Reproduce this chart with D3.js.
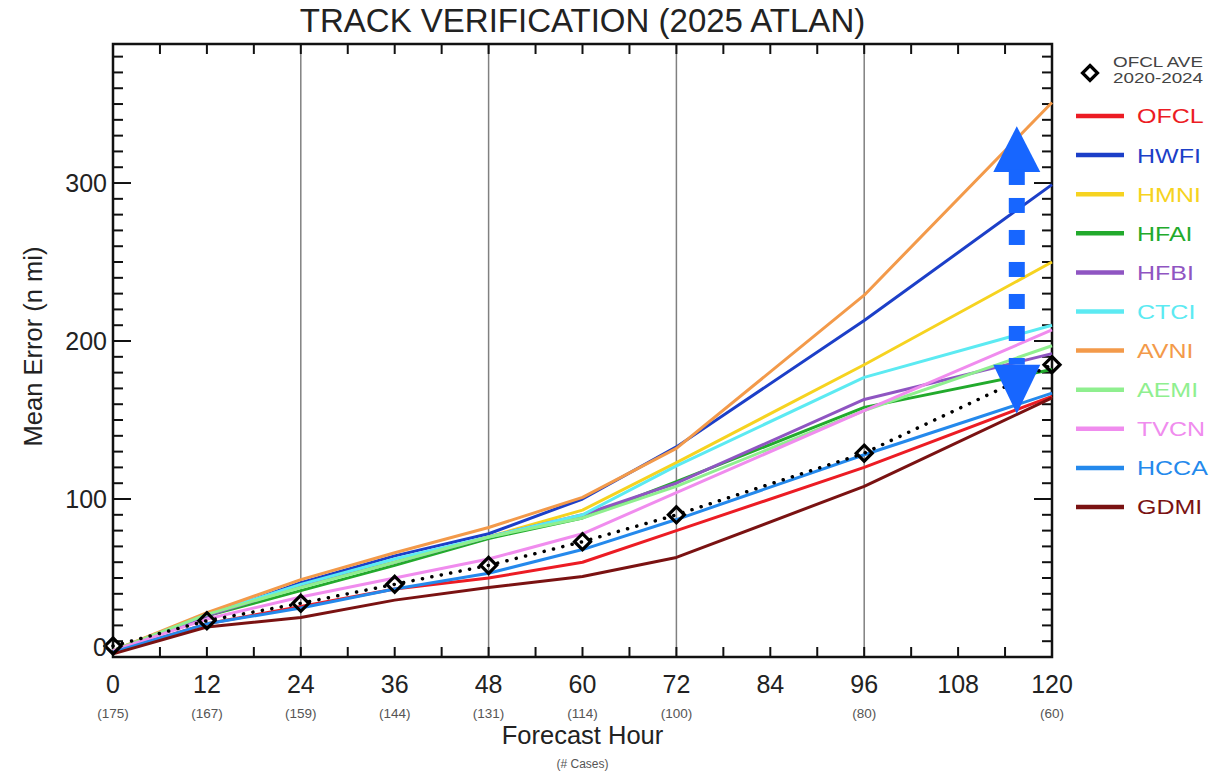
<!DOCTYPE html>
<html>
<head>
<meta charset="utf-8">
<script src="https://cdn.jsdelivr.net/npm/d3@7"></script>
<style>
  body { margin: 0; background: #fff; }
  text { font-family: "Liberation Sans", Arial, Helvetica, sans-serif; }
</style>
</head>
<body>
<script>
// forecast hours and number of verifying cases
const hours = [0, 12, 24, 36, 48, 60, 72, 96, 120];
const cases = [175, 167, 159, 144, 131, 114, 100, 80, 60];
const xTickLabels = [0, 12, 24, 36, 48, 60, 72, 84, 96, 108, 120];
const yTickLabels = [0, 100, 200, 300];

// 5-year average of the official forecast
const ofclAve = [7, 23, 34, 46, 58, 73, 90, 129, 185];

// model mean errors (n mi)
const models = ["OFCL", "HWFI", "HMNI", "HFAI", "HFBI", "CTCI", "AVNI", "AEMI", "TVCN", "HCCA", "GDMI"];
const colors = ["#ec1c24", "#1c3fc8", "#f6d320", "#22aa2c", "#8f55c2", "#5ceaf2", "#f39a4a", "#8fef8f", "#f08cee", "#2489ec", "#7a1212"];
const ofcl = [3, 21, 32, 43, 50, 60, 80, 120, 165];
const hwfi = [4, 26, 47, 64, 78, 100, 133, 213, 299];
const hmni = [4, 27, 45, 60, 76, 93, 123, 185, 250];
const hfai = [4, 26, 42, 58, 75, 88, 111, 158, 182];
const hfbi = [4, 26, 45, 60, 76, 90, 110, 163, 192];
const ctci = [4, 27, 46, 62, 76, 90, 121, 177, 210];
const avni = [4, 28, 49, 66, 82, 101, 132, 229, 351];
const aemi = [4, 27, 44, 60, 76, 88, 108, 156, 197];
const tvcn = [4, 24, 38, 50, 62, 78, 104, 156, 207];
const hcca = [3, 21, 31, 43, 53, 68, 87, 128, 167];
const gdmi = [2, 19, 25, 36, 44, 51, 63, 108, 164];
const series = [ofcl, hwfi, hmni, hfai, hfbi, ctci, avni, aemi, tvcn, hcca, gdmi];

const svgWidth = 1223;
const svgHeight = 772;
const plot = {left: 113, right: 1052, top: 44, bottom: 657};

const svg = d3.select("body").append("svg")
    .attr("width", svgWidth)
    .attr("height", svgHeight);

const x = d3.scaleLinear().domain([0, 120]).range([plot.left, plot.right]);
const y = d3.scaleLinear().domain([0, 388]).range([plot.bottom, plot.top]);

// vertical reference lines
svg.append("g")
    .selectAll("line")
    .data([24, 48, 72, 96])
    .join("line")
    .attr("x1", d => x(d)).attr("x2", d => x(d))
    .attr("y1", plot.top).attr("y2", plot.bottom)
    .attr("stroke", "#808080")
    .attr("stroke-width", 1.5);

// axes with inward ticks on all four sides
const xTicks = d3.range(0, 121, 6);
const yMinor = d3.range(0, 381, 10);
const tickLen = 10, majorLen = 18;

const frame = svg.append("g").attr("stroke", "#111").attr("stroke-width", 2);
frame.selectAll(".tb")
    .data(xTicks.filter(d => d > 0 && d < 120))
    .join("line")
    .attr("x1", d => x(d)).attr("x2", d => x(d))
    .attr("y1", plot.bottom).attr("y2", plot.bottom - tickLen);
frame.selectAll(".tt")
    .data(xTicks.filter(d => d > 0 && d < 120))
    .join("line")
    .attr("x1", d => x(d)).attr("x2", d => x(d))
    .attr("y1", plot.top).attr("y2", plot.top + tickLen);
const yLen = d => d % 100 === 0 ? majorLen : tickLen;
frame.selectAll(".yl")
    .data(yMinor.filter(d => d > 0))
    .join("line")
    .attr("x1", plot.left).attr("x2", d => plot.left + yLen(d))
    .attr("y1", d => y(d)).attr("y2", d => y(d));
frame.selectAll(".yr")
    .data(yMinor.filter(d => d > 0))
    .join("line")
    .attr("x1", plot.right).attr("x2", d => plot.right - yLen(d))
    .attr("y1", d => y(d)).attr("y2", d => y(d));
svg.append("rect")
    .attr("x", plot.left).attr("y", plot.top)
    .attr("width", plot.right - plot.left).attr("height", plot.bottom - plot.top)
    .attr("fill", "none").attr("stroke", "#111").attr("stroke-width", 2.5);

// model lines
const line = d3.line()
    .x((d, i) => x(hours[i]))
    .y(d => y(d));

svg.append("g")
    .selectAll("path")
    .data(series)
    .join("path")
    .attr("d", line)
    .attr("fill", "none")
    .attr("stroke", (d, i) => colors[i])
    .attr("stroke-width", 3)
    .attr("stroke-linejoin", "round");

// 5-year average: dotted line and diamonds
svg.append("path")
    .datum(ofclAve)
    .attr("d", line)
    .attr("fill", "none")
    .attr("stroke", "#000")
    .attr("stroke-width", 3.5)
    .attr("stroke-linecap", "round")
    .attr("stroke-dasharray", "0.1 9.5");

const diamond = (cx, cy, r) => `M${cx},${cy - r}L${cx + r},${cy}L${cx},${cy + r}L${cx - r},${cy}Z`;
svg.append("g")
    .selectAll("path")
    .data(ofclAve)
    .join("path")
    .attr("d", (d, i) => diamond(x(hours[i]), y(d), 8))
    .attr("fill", "none")
    .attr("stroke", "#000")
    .attr("stroke-width", 3.2);

// blue double arrow annotation
const arrowX = x(115.5);
const arrowColor = "#1766ff";
const arrow = svg.append("g").attr("fill", arrowColor);
const aTop = y(336), aTopBase = y(307), aBot = y(154), aBotBase = y(185);
arrow.append("path")
    .attr("d", `M${arrowX},${aTop}L${arrowX + 23.5},${aTopBase}L${arrowX - 23.5},${aTopBase}Z`);
arrow.append("path")
    .attr("d", `M${arrowX},${aBot}L${arrowX + 23.5},${aBotBase}L${arrowX - 23.5},${aBotBase}Z`);
arrow.selectAll("rect")
    .data([aTopBase - 2, aTopBase + 26, aTopBase + 58, aTopBase + 90, aTopBase + 122, aTopBase + 154, aTopBase + 186])
    .join("rect")
    .attr("x", arrowX - 8).attr("width", 16)
    .attr("y", d => d).attr("height", d => Math.min(15, aBotBase - d));

// title
svg.append("text")
    .attr("x", (plot.left + plot.right) / 2)
    .attr("y", 32)
    .attr("text-anchor", "middle")
    .attr("font-size", 33)
    .attr("fill", "#222")
    .text("TRACK VERIFICATION (2025 ATLAN)");

// tick labels
svg.append("g")
    .selectAll("text")
    .data(xTickLabels)
    .join("text")
    .attr("x", d => x(d))
    .attr("y", 693)
    .attr("text-anchor", "middle")
    .attr("font-size", 25)
    .attr("fill", "#222")
    .text(d => d);

svg.append("g")
    .selectAll("text")
    .data(yTickLabels)
    .join("text")
    .attr("x", 107)
    .attr("y", d => d === 0 ? y(d) - 1 : y(d) + 9)
    .attr("text-anchor", "end")
    .attr("font-size", 25)
    .attr("fill", "#222")
    .text(d => d);

svg.append("g")
    .selectAll("text")
    .data(cases)
    .join("text")
    .attr("x", (d, i) => x(hours[i]))
    .attr("y", 718)
    .attr("text-anchor", "middle")
    .attr("font-size", 13.5)
    .attr("fill", "#555")
    .text(d => `(${d})`);

svg.append("text")
    .attr("x", (plot.left + plot.right) / 2)
    .attr("y", 744)
    .attr("text-anchor", "middle")
    .attr("font-size", 25.5)
    .attr("fill", "#222")
    .text("Forecast Hour");

svg.append("text")
    .attr("x", (plot.left + plot.right) / 2)
    .attr("y", 768)
    .attr("text-anchor", "middle")
    .attr("font-size", 12)
    .attr("fill", "#555")
    .text("(# Cases)");

svg.append("text")
    .attr("transform", `translate(42, ${(plot.top + plot.bottom) / 2 - 4}) rotate(-90)`)
    .attr("text-anchor", "middle")
    .attr("font-size", 25.5)
    .attr("fill", "#222")
    .text("Mean Error (n mi)");

// legend (its lettering is drawn a little wider than normal)
const legend = svg.append("g");
const wide = (sel, lx, k) => sel.attr("transform", `translate(${lx},0) scale(${k},1)`).attr("x", 0);
legend.append("path")
    .attr("d", diamond(1090, 73, 7.5))
    .attr("fill", "none")
    .attr("stroke", "#000")
    .attr("stroke-width", 3.2);
legend.append("text")
    .call(wide, 1113, 1.3).attr("y", 67.5)
    .attr("font-size", 14.5).attr("fill", "#444")
    .text("OFCL AVE");
legend.append("text")
    .call(wide, 1113, 1.3).attr("y", 83.5)
    .attr("font-size", 14.5).attr("fill", "#444")
    .text("2020-2024");

const legendY = i => 116 + i * 39.1;
legend.selectAll("line")
    .data(models)
    .join("line")
    .attr("x1", 1076).attr("x2", 1124)
    .attr("y1", (d, i) => legendY(i)).attr("y2", (d, i) => legendY(i))
    .attr("stroke", (d, i) => colors[i])
    .attr("stroke-width", 4.5);
legend.selectAll(".lt")
    .data(models)
    .join("text")
    .call(wide, 1137, 1.22)
    .attr("y", (d, i) => legendY(i) + 7.5)
    .attr("font-size", 20.5)
    .attr("fill", (d, i) => colors[i])
    .text(d => d);
</script>
</body>
</html>
